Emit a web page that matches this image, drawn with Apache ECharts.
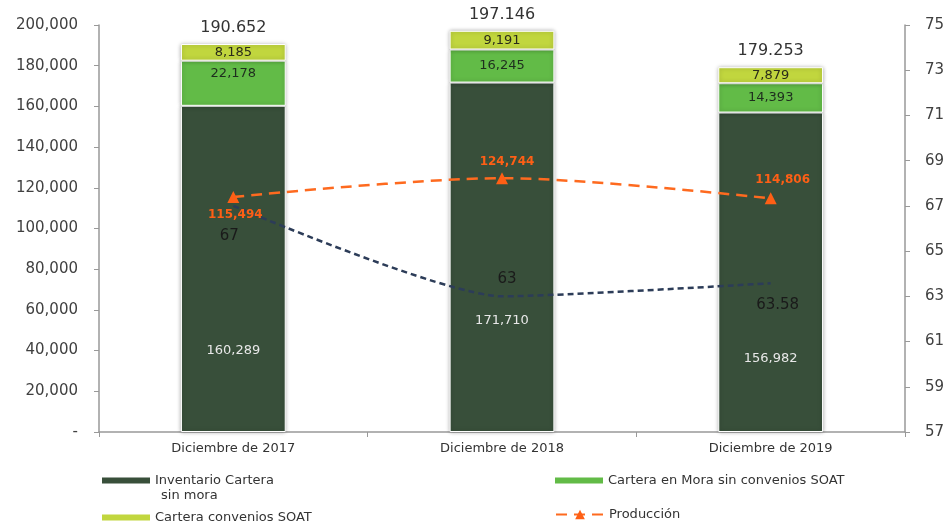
<!DOCTYPE html>
<html>
<head>
<meta charset="utf-8">
<script src="https://cdn.jsdelivr.net/npm/echarts@6/dist/echarts.min.js"></script>
<style>html,body{margin:0;padding:0;background:#fff}#c{width:948px;height:527px}</style>
</head>
<body>
<div id="c"></div>
<script>
const categories = ['Diciembre de 2017', 'Diciembre de 2018', 'Diciembre de 2019'];
const inventarioSinMora = [160289, 171710, 156982];
const carteraMora = [22178, 16245, 14393];
const carteraSoat = [8185, 9191, 7879];
const totals = ['190.652', '197.146', '179.253'];
const produccion = [115494, 124744, 114806];
const indicador = [67, 63, 63.58];
const leftTicks = ['-', '20,000', '40,000', '60,000', '80,000', '100,000', '120,000', '140,000', '160,000', '180,000', '200,000'];

const FONT = 'DejaVu Sans';
const fmt = v => v.toLocaleString('en-US');

// label placement (styling, not data)
const darkLabelPos = [['50%', '75%'], ['50%', '68%'], ['50%', '77%']];
const moraLabelPos = ['insideTop', 'inside', 'inside'];
const blueLabelCfg = [
  {position: 'bottom', distance: 22, offset: [-4, 0]},
  {position: 'top', distance: 9, offset: [5, 0]},
  {position: 'bottom', distance: 14, offset: [7, 0]}
];
const orangeLabelCfg = [
  {position: 'bottom', distance: 6, offset: [2, 0]},
  {position: 'top', distance: 4, offset: [5, 0]},
  {position: 'top', distance: 6, offset: [12, 0]}
];

const barStyle = c => ({color: c, borderColor: '#ffffff', borderWidth: 1, shadowColor: 'rgba(0,0,0,0.3)', shadowBlur: 4});
const legendBase = {padding: 0, itemWidth: 48, itemHeight: 6, icon: 'rect',
  itemStyle: {borderWidth: 0, shadowBlur: 0},
  textStyle: {fontFamily: FONT, fontSize: 13, color: '#333'}};

const chart = echarts.init(document.getElementById('c'));
chart.setOption({
  animation: false,
  textStyle: {fontFamily: FONT},
  grid: {left: 99, right: 43, top: 25, bottom: 95},
  graphic: [
    {type: 'text', left: 161, top: 489, style: {text: 'sin mora', fontFamily: FONT, fontSize: 13, fill: '#333'}}
  ],
  legend: [
    Object.assign({}, legendBase, {data: ['Inventario Cartera'], left: 102, top: 474}),
    Object.assign({}, legendBase, {data: ['Cartera en Mora sin convenios SOAT'], left: 555, top: 474}),
    Object.assign({}, legendBase, {data: ['Cartera convenios SOAT'], left: 102, top: 511}),
    {data: ['Producción'], left: 555, top: 508, padding: 0, itemWidth: 48, itemHeight: 12,
     textStyle: {fontFamily: FONT, fontSize: 13, color: '#333'}}
  ],
  xAxis: {
    type: 'category', data: categories,
    axisLine: {lineStyle: {color: '#999', width: 1.5}},
    axisTick: {show: true, length: 5, lineStyle: {color: '#999'}},
    axisLabel: {fontFamily: FONT, fontSize: 13, color: '#333', margin: 10}
  },
  yAxis: [
    {type: 'value', min: 0, max: 200000, interval: 20000,
     splitLine: {show: false},
     axisLine: {show: true, lineStyle: {color: '#999', width: 1.5}},
     axisTick: {show: true, length: 5, lineStyle: {color: '#999'}},
     axisLabel: {fontFamily: FONT, fontSize: 15, color: '#404040', margin: 21,
       formatter: v => leftTicks[Math.round(v / 20000)]}},
    {type: 'value', min: 57, max: 75, interval: 2, position: 'right',
     splitLine: {show: false},
     axisLine: {show: true, lineStyle: {color: '#999', width: 1.5}},
     axisTick: {show: true, length: 5, lineStyle: {color: '#999'}},
     axisLabel: {fontFamily: FONT, fontSize: 15, color: '#404040', margin: 20}}
  ],
  series: [
    {name: 'Inventario Cartera', type: 'bar', stack: 'c', barWidth: '39%', itemStyle: barStyle('#384f3a'),
     data: inventarioSinMora.map((v, i) => ({value: v, label: {show: true, position: darkLabelPos[i], align: 'center', verticalAlign: 'middle'}})),
     label: {formatter: p => fmt(p.value), color: '#e8e8e8', fontSize: 13, fontFamily: FONT}},
    {name: 'Cartera en Mora sin convenios SOAT', type: 'bar', stack: 'c', itemStyle: barStyle('#62bb47'),
     data: carteraMora.map((v, i) => ({value: v, label: {show: true, position: moraLabelPos[i], distance: 6}})),
     label: {formatter: p => fmt(p.value), color: '#1e2e1e', fontSize: 13, fontFamily: FONT}},
    {name: 'Cartera convenios SOAT', type: 'bar', stack: 'c', itemStyle: barStyle('#c1d63e'),
     data: carteraSoat,
     label: {show: true, position: 'inside', formatter: p => fmt(p.value), color: '#2a2a1a', fontSize: 13, fontFamily: FONT}},
    {name: 'totals', type: 'bar', stack: 'c', data: categories.map(() => 0), itemStyle: {color: 'transparent'},
     label: {show: true, position: 'top', distance: 8, formatter: p => totals[p.dataIndex], color: '#333', fontSize: 16, fontFamily: FONT}},
    {name: 'Producción', type: 'line', yAxisIndex: 0, smooth: 0.3, data: produccion.map((v, i) => ({value: v, label: orangeLabelCfg[i]})),
     symbol: 'triangle', symbolSize: 12, itemStyle: {color: '#fe5f15'},
     lineStyle: {color: '#fe6a1f', width: 2.5, type: [11, 7]},
     label: {show: true, formatter: p => fmt(p.value), color: '#fe5f15', fontWeight: 'bold', fontSize: 12, fontFamily: FONT},
     z: 5},
    {name: 'indicador', type: 'line', yAxisIndex: 1, smooth: 0.2, data: indicador.map((v, i) => ({value: v, label: blueLabelCfg[i]})),
     symbol: 'circle', symbolSize: 1, showSymbol: true, itemStyle: {color: 'rgba(0,0,0,0)'},
     lineStyle: {color: '#2c3c58', width: 2.5, type: [6, 4]},
     label: {show: true, formatter: p => String(p.value), color: '#1a1a1a', fontSize: 15, fontFamily: FONT},
     z: 4}
  ]
});
</script>
</body>
</html>
